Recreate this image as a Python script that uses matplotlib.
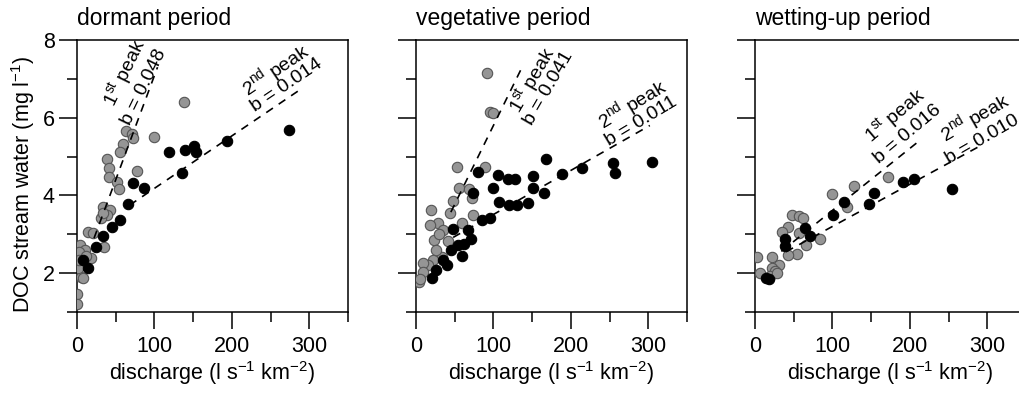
import matplotlib
matplotlib.use("Agg")
import matplotlib.pyplot as plt

plt.rcParams['font.family'] = ['Liberation Sans', 'DejaVu Sans']
plt.rcParams['mathtext.fontset'] = 'custom'
plt.rcParams['mathtext.rm'] = 'Liberation Sans'
plt.rcParams['mathtext.it'] = 'Liberation Sans'
plt.rcParams['lines.scale_dashes'] = False

# dormant period
dor_gray_x = [138.6, 99.4, 77.9, 63.3, 70.6, 72.8, 59.8, 55.5, 38.3, 41.7, 40.9, 51.2, 54.7,
              34.0, 42.6, 38.3, 30.6, 33.0, 14.6, 20.2, 34.9, 3.9, 10.3, 17.7, 3.0, 6.0,
              4.7, 8.2, 0.4, 0.4, 1.7, 12.0, 2.0]
dor_gray_y = [6.41, 5.50, 4.64, 5.67, 5.59, 5.48, 5.33, 5.13, 4.93, 4.70, 4.48, 4.35, 4.16,
              3.71, 3.62, 3.50, 3.41, 3.55, 3.07, 3.03, 2.68, 2.72, 2.60, 2.38, 2.55, 2.25,
              1.91, 1.87, 1.46, 1.20, 2.13, 2.45, 2.35]
dor_black_x = [274, 194.1, 151.1, 153.7, 139.5, 118.8, 135.2, 72.7, 86.5, 66.3, 55.5, 44.8,
               34.0, 24.5, 14.6, 8.2]
dor_black_y = [5.68, 5.41, 5.27, 5.13, 5.17, 5.13, 4.58, 4.33, 4.19, 3.78, 3.38, 3.20,
               2.96, 2.68, 2.12, 2.34]

# vegetative period
veg_gray_x = [92.1, 95.5, 99.9, 52.5, 89.1, 55.9, 68.9, 71.9, 48.2, 43.9, 18.9, 74.0, 59.0,
              28.9, 18.0, 35.3, 23.2, 41.8, 33.2, 22.4, 15.9, 9.5, 4.3, 8.6, 26.0, 30.0, 5.0]
veg_gray_y = [7.16, 6.15, 6.12, 4.72, 4.74, 4.18, 4.16, 3.93, 3.85, 3.56, 3.63, 3.50, 3.28,
              3.30, 3.24, 3.11, 2.85, 2.84, 2.42, 2.33, 2.21, 2.25, 1.78, 2.03, 2.60, 3.00, 1.85]
veg_black_x = [304.4, 254.8, 257.0, 214.0, 188.1, 167.9, 150.7, 150.7, 165.8, 145.1, 130.0,
               120.5, 107.6, 99.9, 106.3, 119.3, 127.9, 80.5, 74.0, 84.8, 95.6, 67.6, 70.6,
               47.4, 54.7, 59.0, 39.6, 35.3, 20.2, 25.8, 62.0, 45.0]
veg_black_y = [4.87, 4.83, 4.58, 4.70, 4.55, 4.93, 4.51, 4.18, 4.05, 3.80, 3.76,
               3.76, 3.83, 4.20, 4.52, 4.42, 4.42, 4.61, 4.05, 3.37, 3.41, 3.11, 2.89,
               3.13, 2.72, 2.44, 2.21, 2.33, 1.87, 2.08, 2.75, 2.60]

# wetting-up period
wet_gray_x = [171.3, 128.3, 99.0, 119.3, 47.4, 57.2, 62.4, 42.2, 34.4, 57.2, 84.0, 65.9,
              54.7, 43.1, 2.2, 21.5, 31.4, 21.5, 25.8, 6.5, 19.4, 28.0]
wet_gray_y = [4.48, 4.24, 4.04, 3.70, 3.50, 3.47, 3.43, 3.20, 3.07, 3.04, 2.87, 2.73,
              2.49, 2.47, 2.41, 2.41, 2.22, 2.13, 2.05, 2.01, 1.92, 2.00]
wet_black_x = [254, 205.3, 191.6, 154.1, 147.2, 115.4, 101.2, 64.6, 71.0, 38.7, 38.7, 14.2, 18.0]
wet_black_y = [4.16, 4.41, 4.35, 4.07, 3.78, 3.84, 3.50, 3.15, 2.96, 2.87, 2.70, 1.87, 1.85]

# regression lines (x ends, y ends) and slopes
peak1_x = [[22, 104], [45, 137], [34, 215]]
peak1_y = [[2.9, 7.3], [3.57, 7.30], [2.56, 5.45]]
peak2_x = [[68, 288], [48, 302], [40, 295]]
peak2_y = [[3.75, 6.72], [2.92, 5.80], [2.55, 5.32]]
b1 = ["0.048", "0.041", "0.016"]
b2 = ["0.014", "0.011", "0.010"]

titles = ["dormant period", "vegetative period", "wetting-up period"]

# label placement (data coords + rotation)
lab1 = [(62.5, 7.15, 87.0, 6.80, 64), (151.5, 6.97, 171.8, 6.76, 60), (180.8, 6.03, 196.7, 5.58, 40)]
lab2 = [(257, 7.23, 270.8, 6.84, 34), (279.8, 6.35, 291.4, 5.90, 31), (284.0, 6.01, 294.0, 5.43, 30)]

gray_x = [dor_gray_x, veg_gray_x, wet_gray_x]
gray_y = [dor_gray_y, veg_gray_y, wet_gray_y]
black_x = [dor_black_x, veg_black_x, wet_black_x]
black_y = [dor_black_y, veg_black_y, wet_black_y]

fig = plt.figure(figsize=(10.2, 3.94), dpi=100)
lefts = [77 / 1020, 416 / 1020, 755 / 1020]

for i in range(3):
    ax = fig.add_axes([lefts[i], 82 / 394, 271 / 1020, 272 / 394])
    ax.scatter(gray_x[i], gray_y[i], s=56, facecolor='#959595', edgecolor='#555555',
               linewidth=0.8, zorder=3)
    ax.scatter(black_x[i], black_y[i], s=56, facecolor='black', edgecolor='black',
               linewidth=0.8, zorder=4)
    ax.plot(peak1_x[i], peak1_y[i], color='black', lw=1.2, dashes=(5.8, 5), zorder=5)
    ax.plot(peak2_x[i], peak2_y[i], color='black', lw=1.2, dashes=(5.8, 5), zorder=5)

    x1, y1, x2, y2, r = lab1[i]
    ax.text(x1, y1, "1$^{\\mathrm{st}}$ peak", rotation=r, ha='center', va='center',
            rotation_mode='anchor', fontsize=14)
    ax.text(x2, y2, "b = " + b1[i], rotation=r, ha='center', va='center',
            rotation_mode='anchor', fontsize=14)
    x1, y1, x2, y2, r = lab2[i]
    ax.text(x1, y1, "2$^{\\mathrm{nd}}$ peak", rotation=r, ha='center', va='center',
            rotation_mode='anchor', fontsize=14)
    ax.text(x2, y2, "b = " + b2[i], rotation=r, ha='center', va='center',
            rotation_mode='anchor', fontsize=14)

    ax.set_xlim(0, 350)
    ax.set_ylim(1, 8)
    ax.set_xticks([0, 100, 200, 300])
    ax.set_xticks([50, 150, 250, 350], minor=True)
    ax.set_yticks([2, 4, 6, 8])
    ax.set_yticks([1, 3, 5, 7], minor=True)
    ax.tick_params(which='major', direction='out', length=12, width=1.1,
                   labelsize=15.5, pad=5)
    ax.tick_params(which='minor', direction='out', length=7, width=1.1)
    ax.tick_params(axis='y', which='major', length=13, pad=3)
    if i > 0:
        ax.set_yticklabels([])
    for sp in ax.spines.values():
        sp.set_linewidth(1.1)
    ax.set_xlabel("discharge (l s$^{\\mathrm{-1}}$ km$^{\\mathrm{-2}}$)", fontsize=15.5, labelpad=2)
    ax.set_title(titles[i], loc='left', fontsize=16.5, pad=11)

fig.text(23 / 1020, 1 - 184 / 394, "DOC stream water (mg l$^{\\mathrm{-1}}$)",
         rotation=90, ha='center', va='center', fontsize=15.5)

fig.savefig("out.png", dpi=100)
